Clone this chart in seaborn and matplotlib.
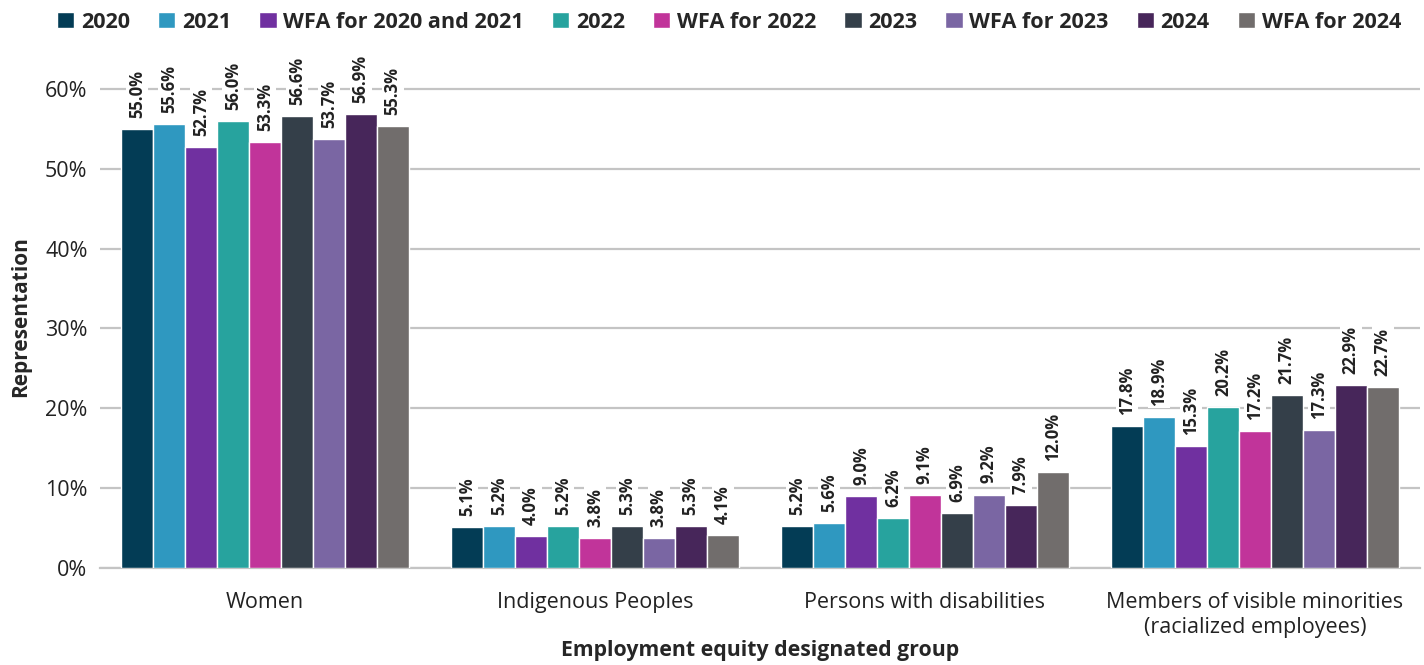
import matplotlib
matplotlib.use("Agg")
import matplotlib.pyplot as plt
import seaborn as sns
import pandas as pd
from matplotlib.ticker import FuncFormatter

groups = ["Women", "Indigenous Peoples", "Persons with disabilities",
          "Members of visible minorities\n(racialized employees)"]
series = ["2020", "2021", "WFA for 2020 and 2021", "2022", "WFA for 2022",
          "2023", "WFA for 2023", "2024", "WFA for 2024"]

women = [55.0, 55.6, 52.7, 56.0, 53.3, 56.6, 53.7, 56.9, 55.3]
indigenous = [5.1, 5.2, 4.0, 5.2, 3.8, 5.3, 3.8, 5.3, 4.1]
disabilities = [5.2, 5.6, 9.0, 6.2, 9.1, 6.9, 9.2, 7.9, 12.0]
visible_minorities = [17.8, 18.9, 15.3, 20.2, 17.2, 21.7, 17.3, 22.9, 22.7]

colors = ["#033c55", "#2f98c0", "#7030a0", "#27a39e", "#c1349a",
          "#343f49", "#7a66a3", "#47265a", "#716d6c"]

rows = []
for grp, vals in zip(groups, [women, indigenous, disabilities, visible_minorities]):
    for s, v in zip(series, vals):
        rows.append({"group": grp, "series": s, "value": v})
df = pd.DataFrame(rows)

sns.set_theme(style="white")
plt.rcParams["font.family"] = ["Open Sans", "DejaVu Sans"]

fig = plt.figure(figsize=(14.24, 6.65), dpi=100)
ax = fig.add_axes([100 / 1424, 1 - 568 / 665, 1320 / 1424, (568 - 65) / 665])

sns.barplot(data=df, x="group", y="value", hue="series", order=groups,
            hue_order=series, palette=colors, saturation=1, width=0.87,
            edgecolor="white", linewidth=1.0, ax=ax, zorder=3)

ax.set_xlim(-0.5, 3.5)
ax.set_ylim(0, 63)
ax.set_yticks(range(0, 61, 10))
ax.yaxis.set_major_formatter(FuncFormatter(lambda v, _: f"{v:.0f}%"))
ax.grid(axis="y", color="#c4c4c4", linewidth=1.6, zorder=0)
ax.grid(axis="x", visible=False)
for side in ["top", "right", "left"]:
    ax.spines[side].set_visible(False)
ax.spines["bottom"].set_color("#c4c4c4")
ax.spines["bottom"].set_linewidth(1.6)
ax.tick_params(axis="both", length=0, labelsize=15.5, colors="#222222")
ax.tick_params(axis="x", pad=17)
ax.tick_params(axis="y", pad=9)
for lbl in ax.get_xticklabels():
    lbl.set_linespacing(1.25)

ax.set_ylabel("Representation", fontsize=15, fontweight="bold", labelpad=10)
ax.set_xlabel("Employment equity designated group", fontsize=15.3,
              fontweight="bold", labelpad=2)

for cont in ax.containers:
    ax.bar_label(cont, fmt="%.1f%%", rotation=90, padding=8, fontsize=12,
                 fontweight="bold", color="#222222", clip_on=False,
                 bbox=dict(facecolor="white", edgecolor="none", pad=1.5))

handles, labels = ax.get_legend_handles_labels()
ax.legend_.remove()
fig.legend(handles, labels, loc="upper center", bbox_to_anchor=(0.512, 1.012),
           ncol=9, frameon=False, handlelength=0.8, handleheight=0.8,
           handletextpad=0.3, columnspacing=1.3,
           prop={"weight": "bold", "size": 15.6})

fig.savefig("out.png", dpi=100)
